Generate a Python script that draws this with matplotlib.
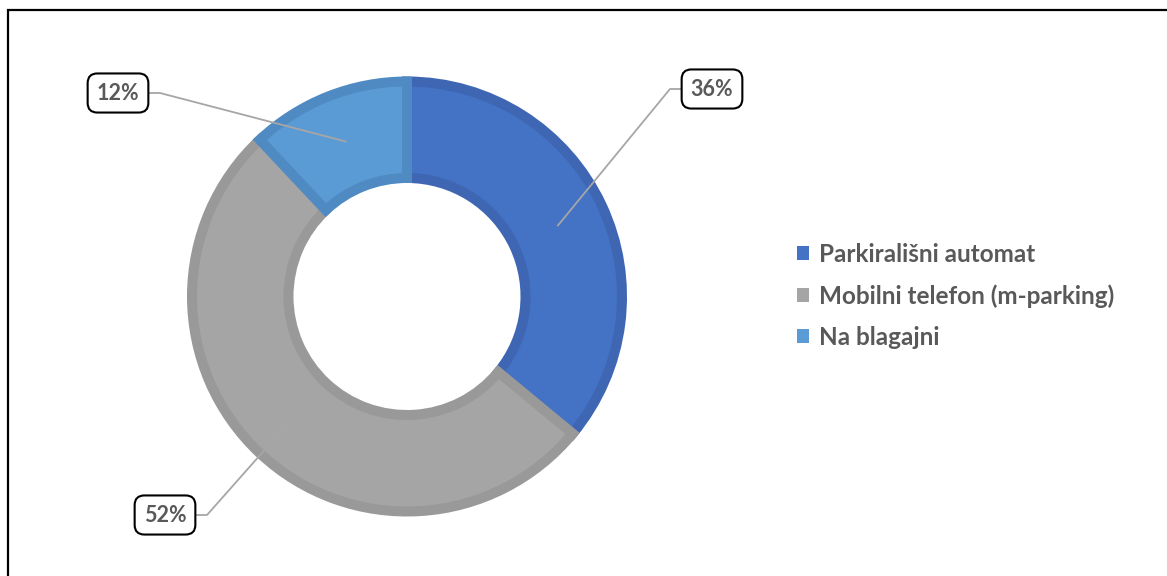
import numpy as np
import matplotlib
matplotlib.use("Agg")
from matplotlib import pyplot as plt
from matplotlib.patches import Rectangle, Patch

labels = ['Parkirališni automat', 'Mobilni telefon (m-parking)', 'Na blagajni']
values = [36, 52, 12]
pct_text = ['36%', '52%', '12%']

colors = ['#4472C4', '#A5A5A5', '#5B9BD5']
edges = ['#3E66B2', '#999999', '#4F8BC2']
text_col = '#595959'

# where the percentage boxes sit (pixel coords, y from top)
box_pos = [(712, 89), (165, 515), (118, 93)]

W, H = 1167, 576
plt.rcParams['font.family'] = ['Lato', 'DejaVu Sans']

fig = plt.figure(figsize=(W / 100, H / 100), dpi=100)
ax = fig.add_axes([0, 0, 1, 1])

cx, cy = 407, H - 296.5
r_out, r_in = 215, 118.5
wedges, _ = ax.pie(values, colors=colors, radius=r_out, center=(cx, cy),
                   startangle=90, counterclock=False,
                   wedgeprops=dict(width=r_out - r_in, linewidth=7.2))
for w, ec in zip(wedges, edges):
    w.set_edgecolor(ec)
    w.set_joinstyle('miter')

ax.set_xlim(0, W)
ax.set_ylim(0, H)
ax.set_aspect('equal')
ax.axis('off')

# data labels with leader lines
r_mid = (r_out + r_in) / 2
for w, txt, (bx, by) in zip(wedges, pct_text, box_pos):
    ang = np.deg2rad((w.theta1 + w.theta2) / 2)
    px, py = cx + r_mid * np.cos(ang), cy + r_mid * np.sin(ang)
    by = H - by
    side = 1 if px > bx else -1
    edge_x = bx + side * 31
    elbow_x = edge_x + side * 11
    ax.plot([px, elbow_x, edge_x], [py, by, by], color='#A6A6A6', lw=1.3, zorder=3)
    ax.text(bx, by, txt, ha='center', va='center', fontsize=15.5, fontweight='bold',
            color=text_col, zorder=4,
            bbox=dict(boxstyle='round,pad=0.42,rounding_size=0.45', fc='white', ec='black', lw=1.5))

handles = [Patch(facecolor=c, edgecolor='none') for c in colors]
leg = fig.legend(handles, labels, loc='upper left', bbox_to_anchor=(787 / W, 1 - 233 / H),
                 frameon=False, fontsize=17.5, handlelength=0.5, handleheight=0.5,
                 handletextpad=0.42, labelspacing=0.75, borderaxespad=0)
for t in leg.get_texts():
    t.set_color(text_col)
    t.set_fontweight('bold')

fig.patches.append(Rectangle((8 / W, -0.1), 1.2, 1.1 - 10 / H, transform=fig.transFigure,
                             fill=False, ec='black', lw=1.6))

fig.savefig('out.png', dpi=100)
